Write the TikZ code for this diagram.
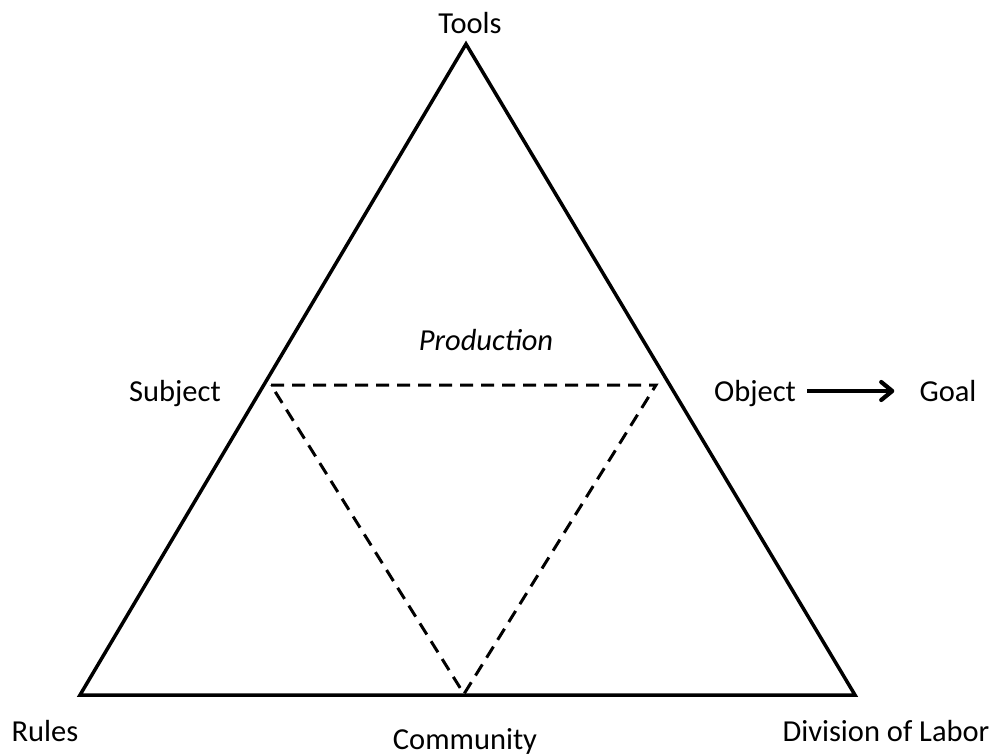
\documentclass[tikz,border=0pt]{standalone}
\usepackage{fontspec}
\setmainfont{Carlito}
\usetikzlibrary{arrows.meta}
\begin{document}
\begin{tikzpicture}[x=1pt,y=-1pt,
  lbl/.style={anchor=base,inner sep=0pt,font=\fontsize{30.5}{36}\selectfont},
  outer/.style={line width=3.5pt,line join=miter},
  inner/.style={line width=3pt,dash pattern=on 13pt off 8pt},
  goalarrow/.style={line width=3.4pt,-{Straight Barb[length=11pt,width=18pt,line width=4.2pt,round]}}]
\useasboundingbox (0,0) rectangle (1000,755);
% outer triangle
\coordinate (T) at (466,44);
\coordinate (L) at (80,695);
\coordinate (R) at (855,695);
\draw[outer] (T) -- (L) -- (R) -- cycle;
% inner dashed triangle
\coordinate (A) at (271,385);
\coordinate (B) at (656,385);
\coordinate (C) at (464,694);
\draw[inner] (A) -- (B) -- (C) -- cycle;
% labels
\node[lbl] (tools) at (470,33) {Tools};
\node[lbl] (production) at (486,350) {\itshape Production};
\node[lbl] (subject) at (175,401) {Subject};
\node[lbl] (object) at (755,401) {Object};
\node[lbl] (goal) at (948,401) {Goal};
\node[lbl] (rules) at (45,741) {Rules};
\node[lbl] (community) at (465,749) {Community};
\node[lbl] (division) at (886,741) {Division of Labor};
\draw[goalarrow] ([xshift=11pt,yshift=10pt]object.base east) -- ([xshift=-25pt,yshift=10pt]goal.base west);
\end{tikzpicture}
\end{document}
